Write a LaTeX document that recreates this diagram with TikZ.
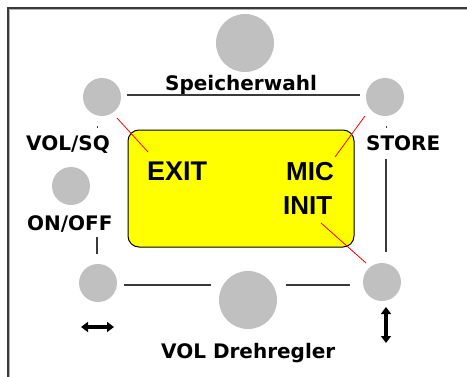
\documentclass[tikz,border=0pt]{standalone}
\usepackage{fontspec}
\setmainfont{DejaVu Sans}
\newfontfamily\arialfont{Liberation Sans}
\usetikzlibrary{arrows.meta}
\definecolor{knobgray}{HTML}{C0C0C0}
\definecolor{framegray}{HTML}{3A3A3A}
\definecolor{lcdyellow}{HTML}{FFFF00}
\tikzset{
  knob/.style={circle, fill=knobgray, draw=none, inner sep=0pt, minimum size=38pt},
  bigknob/.style={knob, minimum size=58pt},
  lbl/.style={inner sep=0pt, anchor=base west, font=\fontsize{20}{24}\selectfont\bfseries},
  lcdtxt/.style={inner sep=0pt, anchor=base west, font=\fontsize{26}{30}\selectfont\arialfont\bfseries},
  conn/.style={draw=framegray, line width=1.4pt},
  redline/.style={draw=red, line width=0.8pt},
  dblarrow/.style={line width=3.5pt, {Triangle[width=10pt, length=7pt]}-{Triangle[width=10pt, length=7pt]}}
}
\begin{document}
\begin{tikzpicture}[x=1pt,y=-1pt]
\useasboundingbox (0,0) rectangle (467,376);
\fill[white] (0,0) rectangle (467,376);
% frame
\draw[framegray, line width=2pt] (8,377) -- (8,8) -- (468,8);
\draw[gray!60, line width=0.8pt] (9.8,377) -- (9.8,9.8) -- (468,9.8);
% knobs
\node[bigknob] (top) at (245,43) {};
\node[knob] (tl) at (102,97) {};
\node[knob] (tr) at (385,97) {};
\node[knob] (ml) at (71,186) {};
\node[knob] (bl) at (98,283) {};
\node[knob] (br) at (382,282) {};
\node[bigknob] (bot) at (248,300) {};
% LCD
\draw[fill=lcdyellow, draw=black, line width=1pt, rounded corners=11pt] (128,130) rectangle (354,247);
\node[lcdtxt, font=\fontsize{27}{30}\selectfont\arialfont\bfseries] (exit) at (147,180.5) {EXIT};
\node[lcdtxt] (mic) at (286,180.5) {MIC};
\node[lcdtxt] (init) at (283,214) {INIT};
% labels
\node[lbl] (speicher) at (165,90.5) {Speicherwahl};
\node[lbl] (volsq) at (26,150.5) {VOL/SQ};
\node[lbl] (store) at (366,150.5) {STORE};
\node[lbl] (onoff) at (27,230.5) {ON/OFF};
\node[lbl] (voldreh) at (161,358) {VOL Drehregler};
% connector end points
\coordinate (tla) at (127,95);  \coordinate (tra) at (360,95);
\coordinate (bla) at (124,285); \coordinate (bota) at (211,285);
\coordinate (botb) at (286,285); \coordinate (bra) at (350,285);
\coordinate (sta) at (386,159); \coordinate (brb) at (386,252);
\coordinate (ona) at (97,237);  \coordinate (blb) at (97,254);
\coordinate (tlt) at (97,126);  \coordinate (vst) at (97,128);
\coordinate (trt) at (386,126); \coordinate (stt) at (386,128);
\draw[conn] (tla) -- (tra);
\draw[conn] (bla) -- (bota);
\draw[conn] (botb) -- (bra);
\draw[conn] (sta) -- (brb);
\draw[conn] (ona) -- (blb);
\draw[framegray, line width=1pt] (tlt) -- (vst);
\draw[framegray, line width=1pt] (trt) -- (stt);
% red pointer lines
\coordinate (r1a) at (117,118); \coordinate (r1b) at (148,152);
\coordinate (r2a) at (365,116); \coordinate (r2b) at (335,157);
\coordinate (r3a) at (321,223); \coordinate (r3b) at (366,263);
\draw[redline] (r1a) -- (r1b);
\draw[redline] (r2a) -- (r2b);
\draw[redline] (r3a) -- (r3b);
% arrows
\coordinate (lra) at (81,327); \coordinate (lrb) at (114,327);
\coordinate (uda) at (386,307); \coordinate (udb) at (386,343);
\draw[dblarrow] (lra) -- (lrb);
\draw[dblarrow] (uda) -- (udb);
\end{tikzpicture}
\end{document}
